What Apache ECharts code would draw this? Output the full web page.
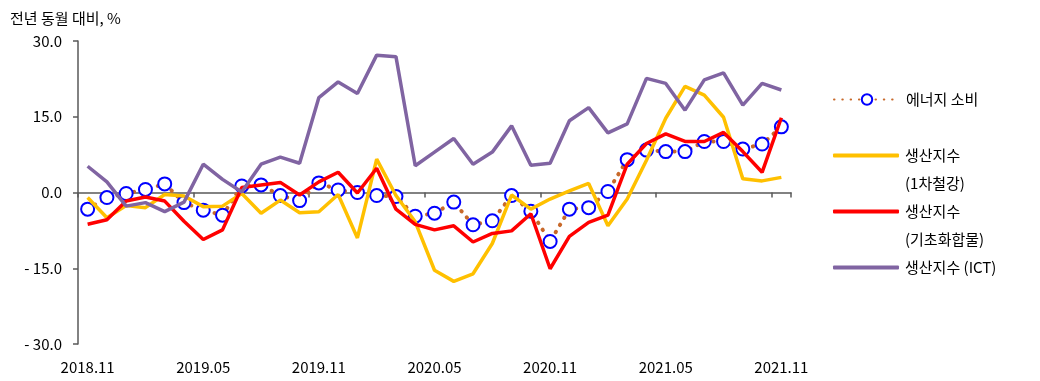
<!DOCTYPE html>
<html>
<head>
<meta charset="utf-8">
<script src="https://cdn.jsdelivr.net/npm/echarts@6/dist/echarts.min.js"></script>
<style>html,body{margin:0;padding:0;background:#fff;}#c{width:1040px;height:381px;}</style>
</head>
<body>
<div id="c"></div>
<script>
const categories = ['2018.11','2018.12','2019.01','2019.02','2019.03','2019.04','2019.05','2019.06','2019.07','2019.08','2019.09','2019.10',
  '2019.11','2019.12','2020.01','2020.02','2020.03','2020.04','2020.05','2020.06','2020.07','2020.08','2020.09','2020.10',
  '2020.11','2020.12','2021.01','2021.02','2021.03','2021.04','2021.05','2021.06','2021.07','2021.08','2021.09','2021.10','2021.11'];
const energy = [-3.3,-1.0,-0.2,0.6,1.7,-2.0,-3.5,-4.5,1.3,1.5,-0.6,-1.6,1.9,0.5,0.0,-0.6,-0.8,-4.7,-4.1,-1.9,-6.4,-5.6,-0.6,-3.7,-9.7,-3.3,-3.0,0.2,6.5,8.4,8.1,8.1,10.1,10.1,8.6,9.6,13.0];
const steel = [-1.0,-5.0,-2.6,-3.0,-0.4,-0.7,-2.8,-2.7,-0.2,-4.1,-1.5,-4.0,-3.8,-0.4,-9.0,6.6,-0.6,-5.8,-15.4,-17.6,-16.1,-10.1,-0.5,-3.3,-1.3,0.3,1.8,-6.6,-1.3,6.4,14.7,21.0,19.3,14.9,2.7,2.3,3.0];
const chem = [-6.3,-5.4,-1.7,-0.9,-1.7,-5.7,-9.3,-7.4,1.0,1.5,2.0,-0.5,2.1,4.0,-0.1,4.8,-3.3,-6.3,-7.4,-6.6,-9.8,-8.1,-7.6,-4.2,-15.1,-8.7,-5.9,-4.5,5.6,9.7,11.6,10.1,10.1,11.9,8.1,4.0,14.8];
const ict = [5.2,2.1,-2.7,-2.0,-3.8,-1.9,5.6,2.6,0.1,5.6,7.0,5.8,18.8,21.9,19.6,27.2,26.9,5.3,8.0,10.7,5.6,8.0,13.2,5.4,5.8,14.2,16.8,11.8,13.6,22.6,21.6,16.3,22.3,23.7,17.3,21.6,20.3];
const seriesNames = ['에너지 소비','생산지수 (1차철강)','생산지수 (기초화합물)','생산지수 (ICT)'];
const legendLabels = ['에너지 소비','생산지수','생산지수','생산지수 (ICT)'];
const legendSub = ['', '(1차철강)', '(기초화합물)', ''];
const yTicks = [-30, -15, 0, 15, 30];

const FONT = "'Noto Sans CJK KR', 'Noto Sans', sans-serif";
const chart = echarts.init(document.getElementById('c'), null, {renderer: 'canvas'});
const legendTops = [101, 158, 214, 270];
const legends = seriesNames.map((n, i) => ({
  show: true,
  data: [i === 0 ? {name: n} : {name: n, icon: 'roundRect'}],
  left: 833,
  top: legendTops[i] - (i === 0 ? 9 : 10),
  padding: 0,
  itemWidth: 66,
  itemHeight: i === 0 ? 13 : 4,
  itemGap: 6,
  formatter: () => legendLabels[i],
  textStyle: {fontFamily: FONT, fontSize: 15, color: '#000', padding: [0,0,0,1]},
  selectedMode: false
}));
const graphics = [{
  type: 'text', left: 10, top: 11,
  style: {text: '전년 동월 대비, %', font: '15px ' + FONT, fill: '#000'}
}];
legendSub.forEach((s, i) => {
  if (s) graphics.push({type: 'text', left: 905, top: legendTops[i] + 28 - 10,
    style: {text: s, font: '15px ' + FONT, fill: '#000'}});
});

const lineW = 3.5;
chart.setOption({
  animation: false,
  backgroundColor: '#fff',
  textStyle: {fontFamily: FONT},
  grid: {left: 78, right: 249, top: 41, bottom: 37, containLabel: false},
  legend: legends,
  graphic: graphics,
  xAxis: [{
    type: 'category', data: categories, boundaryGap: true,
    axisLine: {onZero: true, lineStyle: {color: '#595959', width: 1.5}},
    axisTick: {show: true, interval: 5, length: 5, lineStyle: {color: '#595959', width: 1.5}},
    axisLabel: {show: false}, splitLine: {show: false}
  }, {
    type: 'category', data: categories, boundaryGap: true, position: 'bottom',
    axisLine: {show: false, onZero: false}, axisTick: {show: false},
    axisLabel: {interval: 5, margin: 16, fontSize: 15, color: '#000', fontFamily: FONT},
    splitLine: {show: false}
  }],
  yAxis: {
    type: 'value', min: yTicks[0], max: yTicks[yTicks.length-1], interval: 15,
    axisLine: {show: true, lineStyle: {color: '#595959', width: 1.5}},
    axisTick: {show: true, length: 5, lineStyle: {color: '#595959', width: 1.5}},
    splitLine: {show: false},
    axisLabel: {margin: 16, fontSize: 15, color: '#000', fontFamily: FONT,
      formatter: v => v < 0 ? '- ' + Math.abs(v).toFixed(1) : v.toFixed(1)}
  },
  series: [{
    name: seriesNames[0], type: 'line', data: energy, xAxisIndex: 0, z: 2,
    symbol: 'circle', symbolSize: 13, showSymbol: true, showAllSymbol: true,
    lineStyle: {color: '#C8692A', width: 4, type: [0.5, 7.8], cap: 'round'},
    itemStyle: {color: '#fff', borderColor: '#0000FF', borderWidth: 2}
  }, {
    name: seriesNames[1], type: 'line', data: steel, xAxisIndex: 0, symbol: 'none', z: 3,
    lineStyle: {color: '#FFC000', width: lineW}, itemStyle: {color: '#FFC000'}
  }, {
    name: seriesNames[2], type: 'line', data: chem, xAxisIndex: 0, symbol: 'none', z: 4,
    lineStyle: {color: '#FF0000', width: lineW}, itemStyle: {color: '#FF0000'}
  }, {
    name: seriesNames[3], type: 'line', data: ict, xAxisIndex: 0, symbol: 'none', z: 5,
    lineStyle: {color: '#8064A2', width: lineW}, itemStyle: {color: '#8064A2'}
  }]
});
</script>
</body>
</html>
